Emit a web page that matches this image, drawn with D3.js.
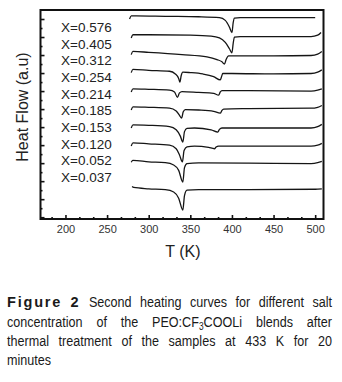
<!DOCTYPE html>
<html>
<head>
<meta charset="utf-8">
<script src="https://cdn.jsdelivr.net/npm/d3@7"></script>
<style>
  body { margin: 0; background: #fff; }
  svg { display: block; }
</style>
</head>
<body>
<div id="chart"></div>
<script>
// DSC second heating curves, PEO:CF3COOLi blends

const width = 342;
const height = 382;

// --- DATA (T in K, heat flow in a.u., curves offset as in the figure) ---
const sampleLabels = ["X=0.576", "X=0.405", "X=0.312", "X=0.254", "X=0.214",
                      "X=0.185", "X=0.153", "X=0.120", "X=0.052", "X=0.037"];

const c576 = [[277,22.2],[279,22.55],[285,22.55],[320,22.5],[360,22.45],[385,22.35],[392,22.05],[397,21.3],[400,20.7],[401.5,21.8],[403,22.3],[410,22.35],[450,22.35],[500,22.35]];
const c405 = [[279,20.1],[281,20.45],[300,20.45],[350,20.4],[375,20.3],[385,20.1],[392,19.6],[397,18.9],[400,18.45],[401.5,19.5],[403,20.2],[410,20.25],[450,20.25],[495,20.25],[503,20.4],[507,20.7]];
const c312 = [[279,18.25],[281,18.6],[300,18.5],[340,18.25],[370,18.0],[382,17.7],[388,17.45],[391,17.2],[393,17.7],[396,18.1],[410,18.1],[450,18.1],[495,18.15],[503,18.3],[508,18.6]];
const c254 = [[279,16.25],[281,16.6],[300,16.5],[325,16.4],[332,16.1],[336,15.6],[337.5,15.2],[339,15.9],[341,16.3],[350,16.25],[365,16.1],[378,15.8],[386,15.45],[387.5,15.8],[389,16.15],[400,16.15],[450,16.1],[495,16.15],[503,16.3],[508,16.55]];
const c214 = [[279,14.1],[281,14.45],[300,14.4],[325,14.3],[331,14.1],[334.5,13.5],[337,14.0],[340,14.15],[360,14.05],[378,13.95],[384,13.75],[386,14.1],[388,14.25],[420,14.25],[495,14.2],[503,14.3],[508,14.45]];
const c185 = [[279,12.1],[281,12.45],[300,12.4],[325,12.3],[333,12.0],[337,11.5],[339.5,11.2],[341.5,11.9],[344,12.15],[360,12.1],[378,11.95],[386,11.75],[388,12.05],[390,12.2],[420,12.25],[495,12.3],[503,12.4],[508,12.6]];
const c153 = [[279,10.1],[281,10.45],[300,10.4],[325,10.25],[333,9.9],[338,9.2],[341,8.55],[343,9.7],[346,10.05],[355,10.1],[375,9.9],[383,9.65],[385,9.95],[388,10.1],[420,10.1],[495,10.1],[503,10.25],[508,10.5]];
const c120 = [[279,8.1],[281,8.45],[300,8.35],[325,8.2],[333,7.8],[337,7.1],[340.5,6.35],[342.5,7.6],[346,8.0],[355,8.1],[372,7.95],[379,7.8],[381,8.0],[384,8.1],[420,8.1],[495,8.1],[503,8.2],[508,8.4]];
const c052 = [[279,6.3],[281,6.5],[300,6.35],[320,6.25],[330,6.0],[336,5.4],[341,4.1],[343,5.7],[346,6.15],[360,6.22],[420,6.2],[495,6.15],[503,6.25],[508,6.4]];
const c037 = [[280,3.6],[282,3.5],[300,3.35],[320,3.25],[330,3.0],[336,2.3],[341,1.0],[343,2.6],[346,3.2],[360,3.25],[420,3.25],[500,3.3],[508,3.35]];

const curves = [c576, c405, c312, c254, c214, c185, c153, c120, c052, c037];

const xMajor = [200, 250, 300, 350, 400, 450, 500];

const captionLines = [
  [{t: "Figure", b: true}, {t: "2", b: true}, "Second", "heating", "curves", "for", "different", "salt"],
  ["concentration", "of", "the", {t: "PEO:CF", sub: "3", rest: "COOLi"}, "blends", "after"],
  ["thermal", "treatment", "of", "the", "samples", "at", "433", "K", "for", "20"],
  ["minutes"]
];

// --- LAYOUT ---
const plot = {left: 40.5, right: 323.5, top: 10, bottom: 219};

const svg = d3.select("#chart")
  .append("svg")
  .attr("width", width)
  .attr("height", height)
  .style("font-family", "'Liberation Sans', Arial, sans-serif");

const x = d3.scaleLinear().domain([170, 510]).range([plot.left, plot.right]);
const y = d3.scaleLinear().domain([0, 23.2]).range([plot.bottom, plot.top]);

// --- AXES (ticks inward) ---
const xMinor = d3.range(170 + 40 / 3, 510, 50 / 3).filter(v => Math.abs((v - 200) % 50) > 1 && Math.abs((v - 200) % 50) < 49);

svg.append("g")
  .attr("transform", `translate(0,${plot.bottom})`)
  .call(d3.axisBottom(x).tickValues(xMinor).tickSize(-2).tickSizeOuter(0).tickFormat(""))
  .call(g => g.select(".domain").remove())
  .selectAll("line").attr("stroke", "#111").attr("stroke-width", 1.6);

svg.append("g")
  .attr("transform", `translate(0,${plot.bottom})`)
  .call(d3.axisBottom(x).tickValues(xMajor).tickSize(-4).tickSizeOuter(0).tickPadding(6))
  .call(g => g.select(".domain").remove())
  .call(g => g.selectAll("line").attr("stroke", "#111").attr("stroke-width", 1.6))
  .call(g => g.selectAll("text").attr("fill", "#333").style("font-size", "11px")
    .style("font-family", "'Liberation Sans', Arial, sans-serif"));

const yTicks = d3.range(0.2, 23, 1);
svg.append("g")
  .attr("transform", `translate(${plot.left},0)`)
  .call(d3.axisLeft(y).tickValues(yTicks).tickSizeOuter(0).tickFormat("")
    .tickSize(-2))
  .call(g => g.select(".domain").remove())
  .call(g => g.selectAll(".tick line")
    .attr("x2", (d, i) => i % 2 === 0 ? 4 : 2)
    .attr("stroke", "#111").attr("stroke-width", 1.6));

// frame
svg.append("rect")
  .attr("x", plot.left)
  .attr("y", plot.top)
  .attr("width", plot.right - plot.left)
  .attr("height", plot.bottom - plot.top)
  .attr("fill", "none")
  .attr("stroke", "#111")
  .attr("stroke-width", 2);

// --- CURVES ---
const line = d3.line()
  .x(d => x(d[0]))
  .y(d => y(d[1]))
  .curve(d3.curveMonotoneX);

svg.append("g")
  .selectAll("path")
  .data(curves)
  .join("path")
  .attr("d", line)
  .attr("fill", "none")
  .attr("stroke", "#151515")
  .attr("stroke-width", 1.3);

// --- SAMPLE LABELS ---
const labelY = d3.scalePoint().domain(sampleLabels).range([32, 182]);

svg.append("g")
  .selectAll("text")
  .data(sampleLabels)
  .join("text")
  .attr("x", 61)
  .attr("y", d => labelY(d))
  .attr("fill", "#222")
  .style("font-size", "13.5px")
  .text(d => d);

// --- AXIS TITLES ---
svg.append("text")
  .attr("transform", "translate(28,107) rotate(-90)")
  .attr("text-anchor", "middle")
  .attr("fill", "#222")
  .style("font-size", "16px")
  .text("Heat Flow (a.u)");

svg.append("text")
  .attr("x", 183)
  .attr("y", 257)
  .attr("text-anchor", "middle")
  .attr("fill", "#222")
  .style("font-size", "16px")
  .text("T (K)");

// --- CAPTION (justified, narrow glyphs) ---
const capLeft = 7, capRight = 332;
const capBase = [307, 326.5, 346, 365];
const squeeze = 0.84;

captionLines.forEach((words, li) => {
  const items = words.map(w => {
    const g = svg.append("g");
    const txt = g.append("text")
      .attr("fill", "#1a1a1a")
      .style("font-size", "15px");
    let sx = squeeze;
    if (typeof w === "string") {
      txt.text(w);
    } else if (w.b) {
      sx = 1;
      txt.style("font-weight", "bold")
        .style("letter-spacing", "1.8px")
        .style("font-size", "14.5px")
        .text(w.t);
    } else {
      txt.append("tspan").text(w.t);
      txt.append("tspan").attr("dy", 3).style("font-size", "10px").text(w.sub);
      txt.append("tspan").attr("dy", -3).text(w.rest);
    }
    return {g, sx, w: txt.node().getComputedTextLength() * sx};
  });
  const total = d3.sum(items, d => d.w);
  const last = li === captionLines.length - 1;
  const gap = (!last && items.length > 1) ? (capRight - capLeft - total) / (items.length - 1) : 4;
  let cx = capLeft;
  items.forEach(it => {
    it.g.attr("transform", `translate(${cx},${capBase[li]}) scale(${it.sx},1)`);
    cx += it.w + gap;
  });
});
</script>
</body>
</html>
